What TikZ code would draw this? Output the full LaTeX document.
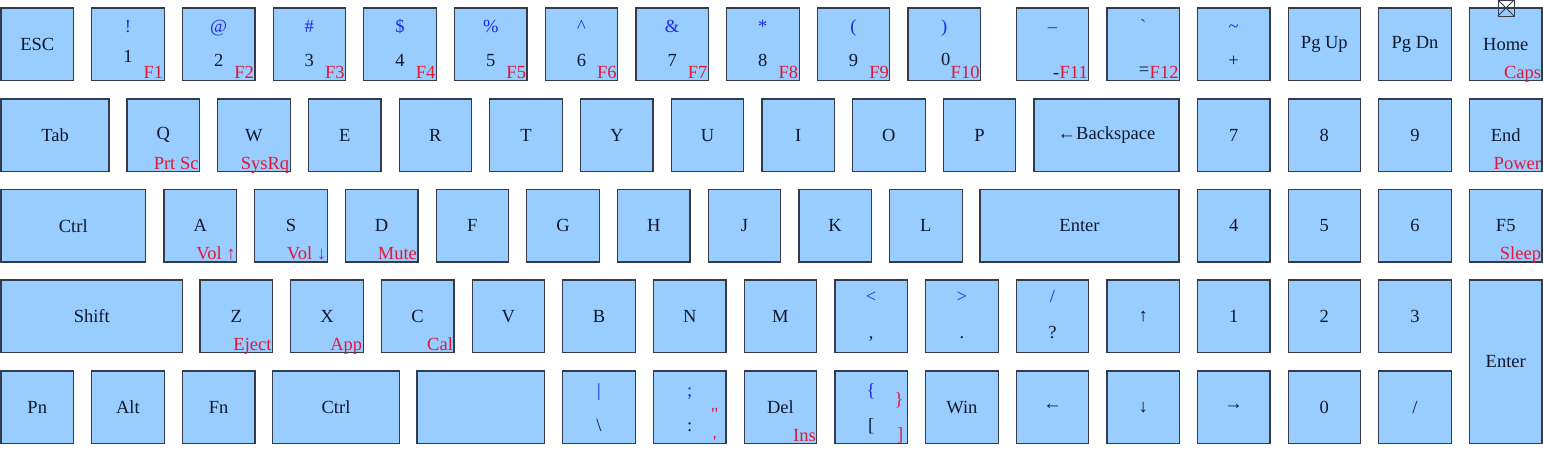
\documentclass[tikz,border=0pt]{standalone}
\usepackage{fontspec}
\setmainfont{Liberation Serif}
\usetikzlibrary{calc}
\definecolor{keyfill}{RGB}{153,204,255}
\definecolor{keyline}{RGB}{50,60,75}
\definecolor{keytext}{RGB}{15,25,45}
\definecolor{keyblue}{RGB}{30,40,230}
\definecolor{keyred}{RGB}{225,25,55}
\newcommand\kfont{\fontsize{18.5}{22}\selectfont}
\tikzset{
  kbase/.style={draw=keyline, fill=keyfill, line width=1.2pt, inner sep=0pt, outer sep=0pt,
    anchor=north west, minimum height=72.5pt, text=keytext, font=\kfont},
  key/.style={kbase, minimum width=72.5pt},
  topsym/.style={text=keyblue, inner sep=0pt, anchor=base, font=\kfont},
  botsym/.style={text=keytext, inner sep=0pt, anchor=base, font=\kfont},
  redlab/.style={text=keyred, inner sep=0pt, anchor=base east, font=\kfont},
}
\newcommand\kk[4]{\node[key] (#1) at (#2,#3) {#4};}
\newcommand\kw[5]{\node[kbase, minimum width=#4pt] (#1) at (#2,#3) {#5};}
\newcommand\kred[2]{\node[redlab] (#1-r) at ($(#1.south east)+(-0.8,-2.5)$) {#2};}
\newcommand\ktop[3]{\node[topsym] (#1-t) at ($(#1.center)+(0,#3)$) {#2};}
\newcommand\kbot[3]{\node[botsym] (#1-b) at ($(#1.center)+(0,#3)$) {#2};}
\newcommand\nkey[5]{\kk{#1}{#2}{8}{}\ktop{#1}{#3}{-12}\kbot{#1}{#4}{22}\kred{#1}{#5}}
\begin{document}
\begin{tikzpicture}[x=1pt,y=-1pt]
\useasboundingbox (0,0) rectangle (1543,455);
% ---------- row 1
\kk{esc}{1}{8}{ESC}
\kk{k1}{91.7}{8}{}\ktop{k1}{!}{-12}\kbot{k1}{1}{18}\kred{k1}{F1}
\nkey{k2}{182.4}{@}{2}{F2}
\nkey{k3}{273.1}{\#}{3}{F3}
\nkey{k4}{363.8}{\$}{4}{F4}
\nkey{k5}{454.5}{\%}{5}{F5}
\nkey{k6}{545.2}{\textasciicircum}{6}{F6}
\nkey{k7}{635.9}{\&}{7}{F7}
\nkey{k8}{726.6}{*}{8}{F8}
\nkey{k9}{817.3}{(}{9}{F9}
\kk{k0}{908}{8}{}\ktop{k0}{)}{-12}\kred{k0}{F10}
\node[botsym, anchor=base east] (k0-b) at ($(k0-r.base west)+(0,-13)$) {0};
\kk{kmin}{1016.3}{8}{}\ktop{kmin}{–}{-12}\kred{kmin}{F11}
\node[botsym, anchor=base east] (kmin-b) at (kmin-r.base west) {-};
\kk{keq}{1107}{8}{}\ktop{keq}{\textasciigrave}{-12}\kred{keq}{F12}
\node[botsym, anchor=base east] (keq-b) at ($(keq-r.base west)+(0,-3)$) {=};
\kk{ktil}{1197.4}{8}{}\ktop{ktil}{\textasciitilde}{-12}\kbot{ktil}{+}{22}
\kk{pgup}{1288.1}{8}{Pg Up}
\kk{pgdn}{1378.8}{8}{Pg Dn}
\kk{home}{1469.5}{8}{Home}\kred{home}{Caps}
\node[draw=keyline, line width=1pt, minimum size=16pt, inner sep=0pt, outer sep=0pt] (hmark) at (1506,8) {};
\draw[keyline, line width=0.8pt] (hmark.north west) -- (hmark.south east) (hmark.north east) -- (hmark.south west);
% ---------- row 2
\kw{tab}{1}{99}{108}{Tab}
\foreach \l [count=\i from 0] in {Q,W,E,R,T,Y,U,I,O,P}
  {\node[key] (k\l) at (127+\i*90.7,99) {\l};}
\kred{kQ}{Prt Sc}
\kred{kW}{SysRq}
\kw{bksp}{1034}{99}{145}{←Backspace}
\kk{n7}{1197.4}{99}{7}
\kk{n8}{1288.1}{99}{8}
\kk{n9}{1378.8}{99}{9}
\kk{end}{1469.5}{99}{End}\kred{end}{Power}
% ---------- row 3
\kw{lctrl}{1}{189.5}{144.5}{Ctrl}
\foreach \l [count=\i from 0] in {A,S,D,F,G,H,J,K,L}
  {\node[key] (k\l) at (164+\i*90.7,189.5) {\l};}
\kred{kA}{Vol ↑}
\kred{kS}{Vol ↓}
\kred{kD}{Mute}
\kw{enter}{980}{189.5}{199}{Enter}
\kk{n4}{1197.4}{189.5}{4}
\kk{n5}{1288.1}{189.5}{5}
\kk{n6}{1378.8}{189.5}{6}
\kk{kf5}{1469.5}{189.5}{F5}\kred{kf5}{Sleep}
% ---------- row 4
\kw{shift}{1}{280}{181.5}{Shift}
\foreach \l [count=\i from 0] in {Z,X,C,V,B,N,M}
  {\node[key] (k\l) at (200+\i*90.7,280) {\l};}
\kred{kZ}{Eject}
\kred{kX}{App}
\kred{kC}{Cal}
\kk{klt}{834.9}{280}{}\ktop{klt}{<}{-14}\kbot{klt}{,}{22}
\kk{kgt}{925.6}{280}{}\ktop{kgt}{>}{-14}\kbot{kgt}{.}{22}
\kk{kslq}{1016.3}{280}{}\ktop{kslq}{/}{-14}\kbot{kslq}{?}{22}
\kk{kup}{1107}{280}{↑}
\kk{n1}{1197.4}{280}{1}
\kk{n2}{1288.1}{280}{2}
\kk{n3}{1378.8}{280}{3}
\node[kbase, minimum width=72.5pt, minimum height=163.5pt] (kpent) at (1469.5,280) {Enter};
% ---------- row 5
\kk{pn}{1}{371}{Pn}
\kk{alt}{91.7}{371}{Alt}
\kk{fn}{182.4}{371}{Fn}
\kw{rctrl}{272.5}{371}{127}{Ctrl}
\kw{space}{417}{371}{127.5}{}
\kk{kbsl}{562.8}{371}{}\ktop{kbsl}{|}{-11}\kbot{kbsl}{\textbackslash}{24}
\kk{ksemi}{653.5}{371}{}\ktop{ksemi}{;}{-11}\kbot{ksemi}{:}{24}
\node[text=keyred, inner sep=0pt, anchor=base, font=\kfont] (ksemi-q) at ($(ksemi.center)+(25,13)$) {\textquotedbl};
\node[text=keyred, inner sep=0pt, anchor=north, font=\kfont] (ksemi-a) at ($(ksemi.center)+(25,29)$) {\textquotesingle};
\kk{del}{744.2}{371}{Del}\kred{del}{Ins}
\kk{kbr}{834.9}{371}{}\ktop{kbr}{\{}{-11}\kbot{kbr}{[}{24}
\node[text=keyred, inner sep=0pt, anchor=center, font=\kfont] (kbr-c) at ($(kbr.center)+(28,-7)$) {\}};
\node[text=keyred, inner sep=0pt, anchor=north, font=\kfont] (kbr-s) at ($(kbr.center)+(29,20)$) {]};
\kk{win}{925.6}{371}{Win}
\kk{kleft}{1016.3}{371}{←}
\kk{kdown}{1107}{371}{↓}
\kk{kright}{1197.4}{371}{→}
\kk{n0}{1288.1}{371}{0}
\kk{nsl}{1378.8}{371}{/}
\end{tikzpicture}
\end{document}
